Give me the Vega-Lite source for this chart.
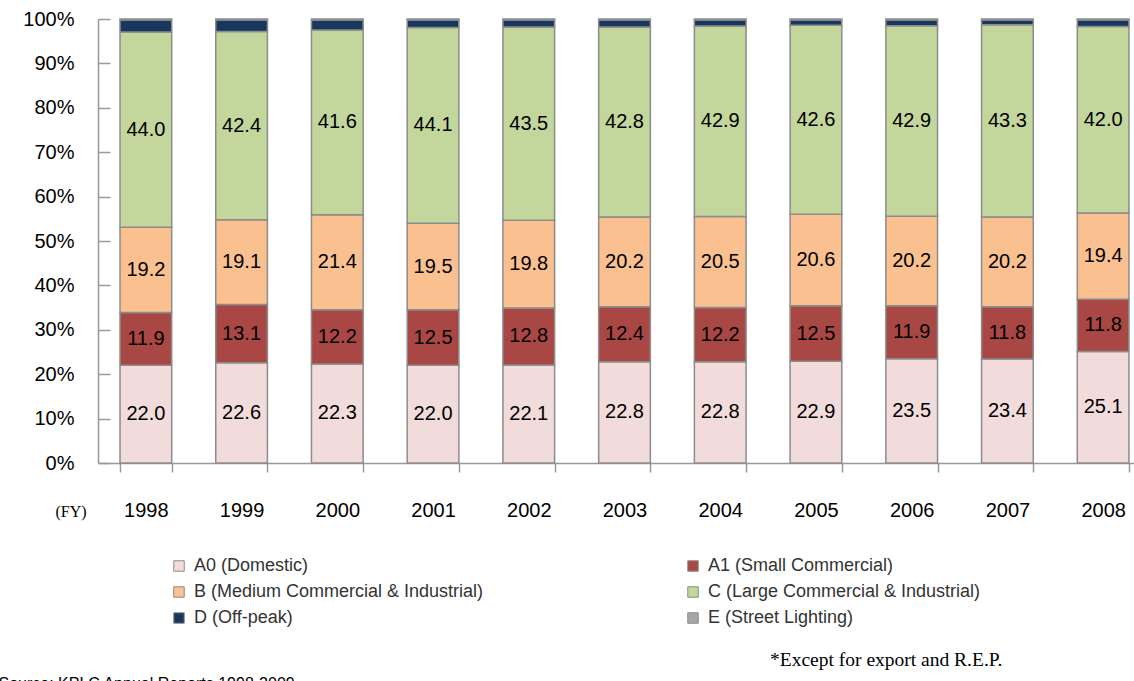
{
  "$schema": "https://vega.github.io/schema/vega-lite/v6.json",
  "autosize": {"type": "none"},
  "padding": {"left": 98, "top": 19, "right": 0, "bottom": 218},
  "width": 1036,
  "height": 444,
  "background": "white",
  "config": {"view": {"stroke": null}, "font": "Liberation Sans"},
  "title": {
    "text": "*Except for export and R.E.P.",
    "orient": "bottom",
    "anchor": "start",
    "frame": "group",
    "font": "Liberation Serif",
    "fontSize": 19.5,
    "fontWeight": "normal",
    "color": "black",
    "baseline": "middle",
    "dx": 672,
    "dy": -35
  },
  "data": {
    "values": [
      {"year": "1998", "cat": "A0 (Domestic)", "o": 1, "v": 22.0},
      {"year": "1998", "cat": "A1 (Small Commercial)", "o": 2, "v": 11.9},
      {"year": "1998", "cat": "B (Medium Commercial & Industrial)", "o": 3, "v": 19.2},
      {"year": "1998", "cat": "C (Large Commercial & Industrial)", "o": 4, "v": 44.0},
      {"year": "1998", "cat": "D (Off-peak)", "o": 5, "v": 2.7},
      {"year": "1998", "cat": "E (Street Lighting)", "o": 6, "v": 0.2},
      {"year": "1999", "cat": "A0 (Domestic)", "o": 1, "v": 22.6},
      {"year": "1999", "cat": "A1 (Small Commercial)", "o": 2, "v": 13.1},
      {"year": "1999", "cat": "B (Medium Commercial & Industrial)", "o": 3, "v": 19.1},
      {"year": "1999", "cat": "C (Large Commercial & Industrial)", "o": 4, "v": 42.4},
      {"year": "1999", "cat": "D (Off-peak)", "o": 5, "v": 2.6},
      {"year": "1999", "cat": "E (Street Lighting)", "o": 6, "v": 0.2},
      {"year": "2000", "cat": "A0 (Domestic)", "o": 1, "v": 22.3},
      {"year": "2000", "cat": "A1 (Small Commercial)", "o": 2, "v": 12.2},
      {"year": "2000", "cat": "B (Medium Commercial & Industrial)", "o": 3, "v": 21.4},
      {"year": "2000", "cat": "C (Large Commercial & Industrial)", "o": 4, "v": 41.6},
      {"year": "2000", "cat": "D (Off-peak)", "o": 5, "v": 2.3},
      {"year": "2000", "cat": "E (Street Lighting)", "o": 6, "v": 0.2},
      {"year": "2001", "cat": "A0 (Domestic)", "o": 1, "v": 22.0},
      {"year": "2001", "cat": "A1 (Small Commercial)", "o": 2, "v": 12.5},
      {"year": "2001", "cat": "B (Medium Commercial & Industrial)", "o": 3, "v": 19.5},
      {"year": "2001", "cat": "C (Large Commercial & Industrial)", "o": 4, "v": 44.1},
      {"year": "2001", "cat": "D (Off-peak)", "o": 5, "v": 1.7},
      {"year": "2001", "cat": "E (Street Lighting)", "o": 6, "v": 0.2},
      {"year": "2002", "cat": "A0 (Domestic)", "o": 1, "v": 22.1},
      {"year": "2002", "cat": "A1 (Small Commercial)", "o": 2, "v": 12.8},
      {"year": "2002", "cat": "B (Medium Commercial & Industrial)", "o": 3, "v": 19.8},
      {"year": "2002", "cat": "C (Large Commercial & Industrial)", "o": 4, "v": 43.5},
      {"year": "2002", "cat": "D (Off-peak)", "o": 5, "v": 1.6},
      {"year": "2002", "cat": "E (Street Lighting)", "o": 6, "v": 0.2},
      {"year": "2003", "cat": "A0 (Domestic)", "o": 1, "v": 22.8},
      {"year": "2003", "cat": "A1 (Small Commercial)", "o": 2, "v": 12.4},
      {"year": "2003", "cat": "B (Medium Commercial & Industrial)", "o": 3, "v": 20.2},
      {"year": "2003", "cat": "C (Large Commercial & Industrial)", "o": 4, "v": 42.8},
      {"year": "2003", "cat": "D (Off-peak)", "o": 5, "v": 1.6},
      {"year": "2003", "cat": "E (Street Lighting)", "o": 6, "v": 0.2},
      {"year": "2004", "cat": "A0 (Domestic)", "o": 1, "v": 22.8},
      {"year": "2004", "cat": "A1 (Small Commercial)", "o": 2, "v": 12.2},
      {"year": "2004", "cat": "B (Medium Commercial & Industrial)", "o": 3, "v": 20.5},
      {"year": "2004", "cat": "C (Large Commercial & Industrial)", "o": 4, "v": 42.9},
      {"year": "2004", "cat": "D (Off-peak)", "o": 5, "v": 1.4},
      {"year": "2004", "cat": "E (Street Lighting)", "o": 6, "v": 0.2},
      {"year": "2005", "cat": "A0 (Domestic)", "o": 1, "v": 22.9},
      {"year": "2005", "cat": "A1 (Small Commercial)", "o": 2, "v": 12.5},
      {"year": "2005", "cat": "B (Medium Commercial & Industrial)", "o": 3, "v": 20.6},
      {"year": "2005", "cat": "C (Large Commercial & Industrial)", "o": 4, "v": 42.6},
      {"year": "2005", "cat": "D (Off-peak)", "o": 5, "v": 1.2},
      {"year": "2005", "cat": "E (Street Lighting)", "o": 6, "v": 0.2},
      {"year": "2006", "cat": "A0 (Domestic)", "o": 1, "v": 23.5},
      {"year": "2006", "cat": "A1 (Small Commercial)", "o": 2, "v": 11.9},
      {"year": "2006", "cat": "B (Medium Commercial & Industrial)", "o": 3, "v": 20.2},
      {"year": "2006", "cat": "C (Large Commercial & Industrial)", "o": 4, "v": 42.9},
      {"year": "2006", "cat": "D (Off-peak)", "o": 5, "v": 1.3},
      {"year": "2006", "cat": "E (Street Lighting)", "o": 6, "v": 0.2},
      {"year": "2007", "cat": "A0 (Domestic)", "o": 1, "v": 23.4},
      {"year": "2007", "cat": "A1 (Small Commercial)", "o": 2, "v": 11.8},
      {"year": "2007", "cat": "B (Medium Commercial & Industrial)", "o": 3, "v": 20.2},
      {"year": "2007", "cat": "C (Large Commercial & Industrial)", "o": 4, "v": 43.3},
      {"year": "2007", "cat": "D (Off-peak)", "o": 5, "v": 1.1},
      {"year": "2007", "cat": "E (Street Lighting)", "o": 6, "v": 0.2},
      {"year": "2008", "cat": "A0 (Domestic)", "o": 1, "v": 25.1},
      {"year": "2008", "cat": "A1 (Small Commercial)", "o": 2, "v": 11.8},
      {"year": "2008", "cat": "B (Medium Commercial & Industrial)", "o": 3, "v": 19.4},
      {"year": "2008", "cat": "C (Large Commercial & Industrial)", "o": 4, "v": 42.0},
      {"year": "2008", "cat": "D (Off-peak)", "o": 5, "v": 1.5},
      {"year": "2008", "cat": "E (Street Lighting)", "o": 6, "v": 0.2}
    ]
  },
  "transform": [
    {"stack": "v", "groupby": ["year"], "sort": [{"field": "o", "order": "ascending"}], "as": ["y0", "y1"]},
    {"calculate": "(datum.y0 + datum.y1) / 2", "as": "mid"}
  ],
  "encoding": {
    "x": {
      "field": "year",
      "type": "ordinal",
      "scale": {"paddingInner": 0.46, "paddingOuter": 0.23, "range": [0, 1053]},
      "axis": {
        "title": "(FY)",
        "titleFont": "Liberation Serif",
        "titleFontSize": 16,
        "titleFontWeight": "normal",
        "titleColor": "black",
        "titleAnchor": "start",
        "titleAlign": "left",
        "titleBaseline": "middle",
        "titleX": -43,
        "titleY": 48,
        "labelAngle": 0,
        "labelFontSize": 20,
        "labelColor": "black",
        "labelPadding": 28,
        "tickBand": "extent",
        "tickSize": 9,
        "tickColor": "#999999",
        "tickWidth": 1.5,
        "domainColor": "#999999",
        "domainWidth": 1.5
      }
    }
  },
  "layer": [
    {
      "mark": {"type": "rule", "color": "#aaaaaa", "strokeWidth": 1.5},
      "encoding": {"y": {"datum": 100, "type": "quantitative"}}
    },
    {
      "mark": {"type": "bar", "stroke": "#8c8c8c", "strokeWidth": 1.5},
      "encoding": {
        "y": {
          "field": "y0",
          "type": "quantitative",
          "scale": {"domain": [0, 100], "nice": false},
          "axis": {
            "title": "Source: KPLC Annual Reports 1998-2009",
            "titleAngle": 0,
            "titleFontSize": 16,
            "titleFontWeight": "normal",
            "titleColor": "black",
            "titleAlign": "left",
            "titleBaseline": "top",
            "titleX": -100,
            "titleY": 656,
            "values": [0, 10, 20, 30, 40, 50, 60, 70, 80, 90, 100],
            "labelExpr": "datum.value + '%'",
            "labelFontSize": 20,
            "labelColor": "black",
            "labelPadding": 36,
            "tickSize": -12,
            "tickColor": "#999999",
            "tickWidth": 1.5,
            "domainColor": "#999999",
            "domainWidth": 1.5,
            "grid": false
          }
        },
        "y2": {"field": "y1"},
        "color": {
          "field": "cat",
          "type": "nominal",
          "scale": {
            "domain": ["A0 (Domestic)", "B (Medium Commercial & Industrial)", "D (Off-peak)", "A1 (Small Commercial)", "C (Large Commercial & Industrial)", "E (Street Lighting)"],
            "range": ["#f2dcdb", "#fac090", "#17375e", "#a94744", "#c3d69b", "#a6a6a6"]
          },
          "legend": {
            "title": null,
            "orient": "none",
            "legendX": 72,
            "legendY": 538,
            "columns": 2,
            "columnPadding": 200,
            "rowPadding": 8,
            "symbolType": "square",
            "symbolSize": 110,
            "symbolStrokeColor": "#8c8c8c",
            "symbolStrokeWidth": 1,
            "labelFontSize": 18,
            "labelColor": "#333333",
            "labelLimit": 400,
            "labelOffset": 6,
            "gridAlign": "all"
          }
        },
        "order": {"field": "o"}
      }
    },
    {
      "transform": [{"filter": "datum.o <= 4"}],
      "mark": {"type": "text", "fontSize": 20, "color": "black", "baseline": "middle", "align": "center"},
      "encoding": {
        "y": {"field": "mid", "type": "quantitative"},
        "text": {"field": "v", "type": "quantitative", "format": ".1f"}
      }
    }
  ]
}
